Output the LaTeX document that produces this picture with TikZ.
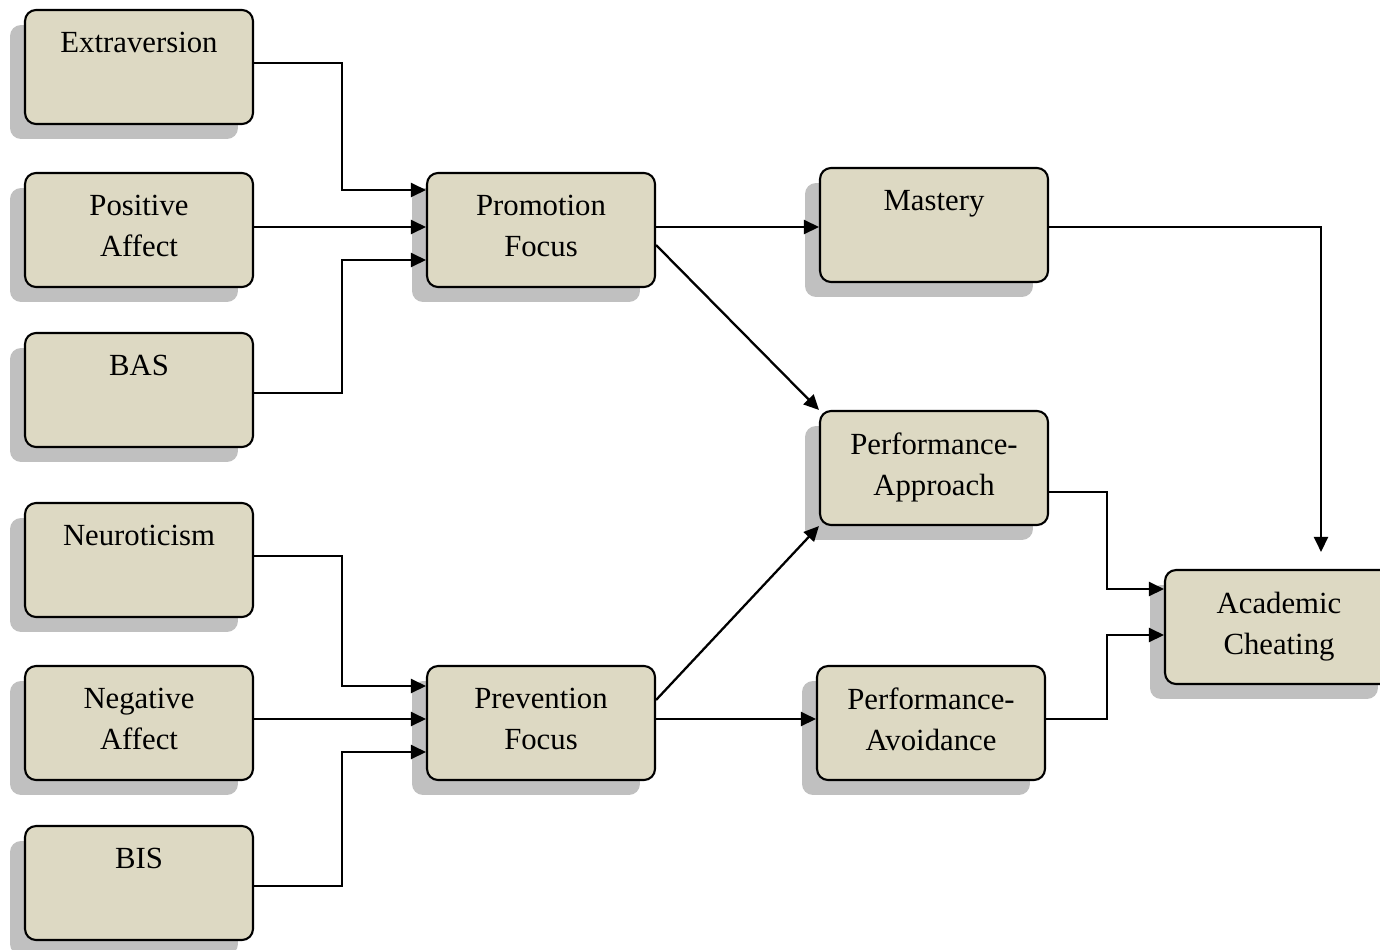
\documentclass[tikz,border=0pt]{standalone}
\usepackage{fontspec}
\setmainfont{Liberation Serif}
\usetikzlibrary{positioning, arrows.meta, calc, shadows}
\definecolor{boxfill}{HTML}{DDD9C3}
\definecolor{shadowgray}{HTML}{C0C0C0}

\begin{document}
\begin{tikzpicture}[
    x=0.02cm, y=-0.02cm,
    box/.style={draw, line width=1.2pt, rounded corners=0.22cm, fill=boxfill,
        minimum width=4.56cm, minimum height=2.28cm, inner sep=0pt,
        drop shadow={shadow xshift=-0.3cm, shadow yshift=-0.3cm, fill=shadowgray, opacity=1}},
    lbl/.style={anchor=north, yshift=-0.46cm, inner sep=0pt, align=center,
        font=\fontsize{17.5}{23.3}\selectfont},
    arr/.style={line width=1.3pt, -{Triangle[length=0.3cm, width=0.28cm]}}
]
    \useasboundingbox (0,0) rectangle (1380,950);

    % Traits
    \node[box, label={[lbl]north:Extraversion}] (extra) at (139,67) {};
    \node[box, label={[lbl]north:Positive\\Affect}] (posaff) at (139,230) {};
    \node[box, label={[lbl]north:BAS}] (bas) at (139,390) {};
    \node[box, label={[lbl]north:Neuroticism}] (neuro) at (139,560) {};
    \node[box, label={[lbl]north:Negative\\Affect}] (negaff) at (139,723) {};
    \node[box, label={[lbl]north:BIS}] (bis) at (139,883) {};

    % Focus
    \node[box, label={[lbl]north:Promotion\\Focus}] (promo) at (541,230) {};
    \node[box, label={[lbl]north:Prevention\\Focus}] (prev) at (541,723) {};

    % Goals
    \node[box, label={[lbl]north:Mastery}] (mastery) at (934,225) {};
    \node[box, label={[lbl]north:Performance-\\Approach}] (perfapp) at (934,468) {};
    \node[box, label={[lbl]north:Performance-\\Avoidance}] (perfavoid) at (931,723) {};

    % Outcome
    \node[box, label={[lbl]north:Academic\\Cheating}] (cheat) at (1279,627) {};

    % Arrows
    \draw[arr] ($(extra.east)+(0,-4)$) -- ++(88,0) |- ($(promo.west)+(0,-40)$);
    \draw[arr] ($(posaff.east)+(0,-3)$) -- ($(promo.west)+(0,-3)$);
    \draw[arr] ($(bas.east)+(0,3)$) -- ++(88,0) |- ($(promo.west)+(0,30)$);

    \draw[arr] ($(neuro.east)+(0,-4)$) -- ++(88,0) |- ($(prev.west)+(0,-37)$);
    \draw[arr] ($(negaff.east)+(0,-4)$) -- ($(prev.west)+(0,-4)$);
    \draw[arr] ($(bis.east)+(0,3)$) -- ++(88,0) |- ($(prev.west)+(0,29)$);

    \draw[arr] ($(promo.east)+(0,-3)$) -- ($(mastery.west)+(0,2)$);
    \draw[arr] ($(promo.east)+(0,15)$) -- (perfapp.north west);
    \draw[arr] ($(prev.east)+(0,-23)$) -- (perfapp.south west);
    \draw[arr] ($(prev.east)+(0,-4)$) -- ($(perfavoid.west)+(0,-4)$);

    \draw[arr] ($(mastery.east)+(0,2)$) -| ($(cheat.north)+(42,-17)$);
    \draw[arr] ($(perfapp.east)+(0,24)$) -- ++(58,0) |- ($(cheat.west)+(0,-38)$);
    \draw[arr] ($(perfavoid.east)+(0,-4)$) -- ++(61,0) |- ($(cheat.west)+(0,8)$);
\end{tikzpicture}
\end{document}
